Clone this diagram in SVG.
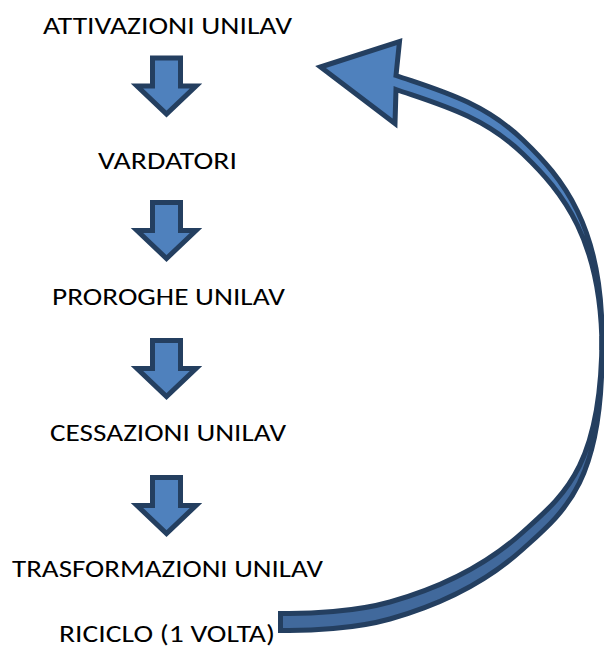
<svg xmlns="http://www.w3.org/2000/svg" xmlns:xlink="http://www.w3.org/1999/xlink" width="604" height="648" viewBox="0 0 604 648">
<style>
.lbl{font-family:Carlito,Calibri,Lato,"Open Sans",sans-serif;font-size:24.5px;fill:#000;text-anchor:middle}
.arr{fill:#4F81BD;stroke:#243F60;stroke-width:5;stroke-linejoin:miter;stroke-miterlimit:10}
.back{fill:#41699C;stroke:#243F60;stroke-width:5;stroke-linejoin:miter;stroke-miterlimit:10}
</style>
<defs>
<path id="down" d="M152.5,2.5 H180.5 V30.5 H196 L166.5,58.5 L137,30.5 H152.5 Z"/>
</defs>
<rect width="604" height="648" fill="#fff"/>
<g id="n1"><text class="lbl" x="167.5" y="34" textLength="249" lengthAdjust="spacingAndGlyphs">ATTIVAZIONI UNILAV</text></g>
<g id="n2"><text class="lbl" x="167.5" y="169" textLength="139" lengthAdjust="spacingAndGlyphs">VARDATORI</text></g>
<g id="n3"><text class="lbl" x="168.5" y="305" textLength="233" lengthAdjust="spacingAndGlyphs">PROROGHE UNILAV</text></g>
<g id="n4"><text class="lbl" x="168" y="441" textLength="236" lengthAdjust="spacingAndGlyphs">CESSAZIONI UNILAV</text></g>
<g id="n5"><text class="lbl" x="167.5" y="577" textLength="311" lengthAdjust="spacingAndGlyphs">TRASFORMAZIONI UNILAV</text></g>
<g id="n6"><text class="lbl" x="167" y="642" textLength="216" lengthAdjust="spacingAndGlyphs">RICICLO (1 VOLTA)</text></g>
<g id="connectors">
<use xlink:href="#down" href="#down" class="arr" transform="translate(0,55.5)"/>
<use xlink:href="#down" href="#down" class="arr" transform="translate(0,200)"/>
<use xlink:href="#down" href="#down" class="arr" transform="translate(0,338)"/>
<use xlink:href="#down" href="#down" class="arr" transform="translate(0,475)"/>
<path class="back" d="M602,336 C602,466 563.9,495.2 523,532 C486,565.5 438,588.5 390,602 C355,611.8 310,614 280.5,613.5 L280.5,630.5 C310,631 355,628.8 390,619 C438,605.5 486,582.5 523,549 C563.9,512.2 602,483 602,353 Z"/>
<path class="arr" d="M320.5,67 L399.5,41.5 L396,75.5 C438,90 483,101.6 523,140 C562.6,178 602,226 602,336 L602,350 C602,240 562.6,192 523,154 C483,115.6 438,104 396,89.5 L395,123.5 Z"/>
</g>
</svg>
